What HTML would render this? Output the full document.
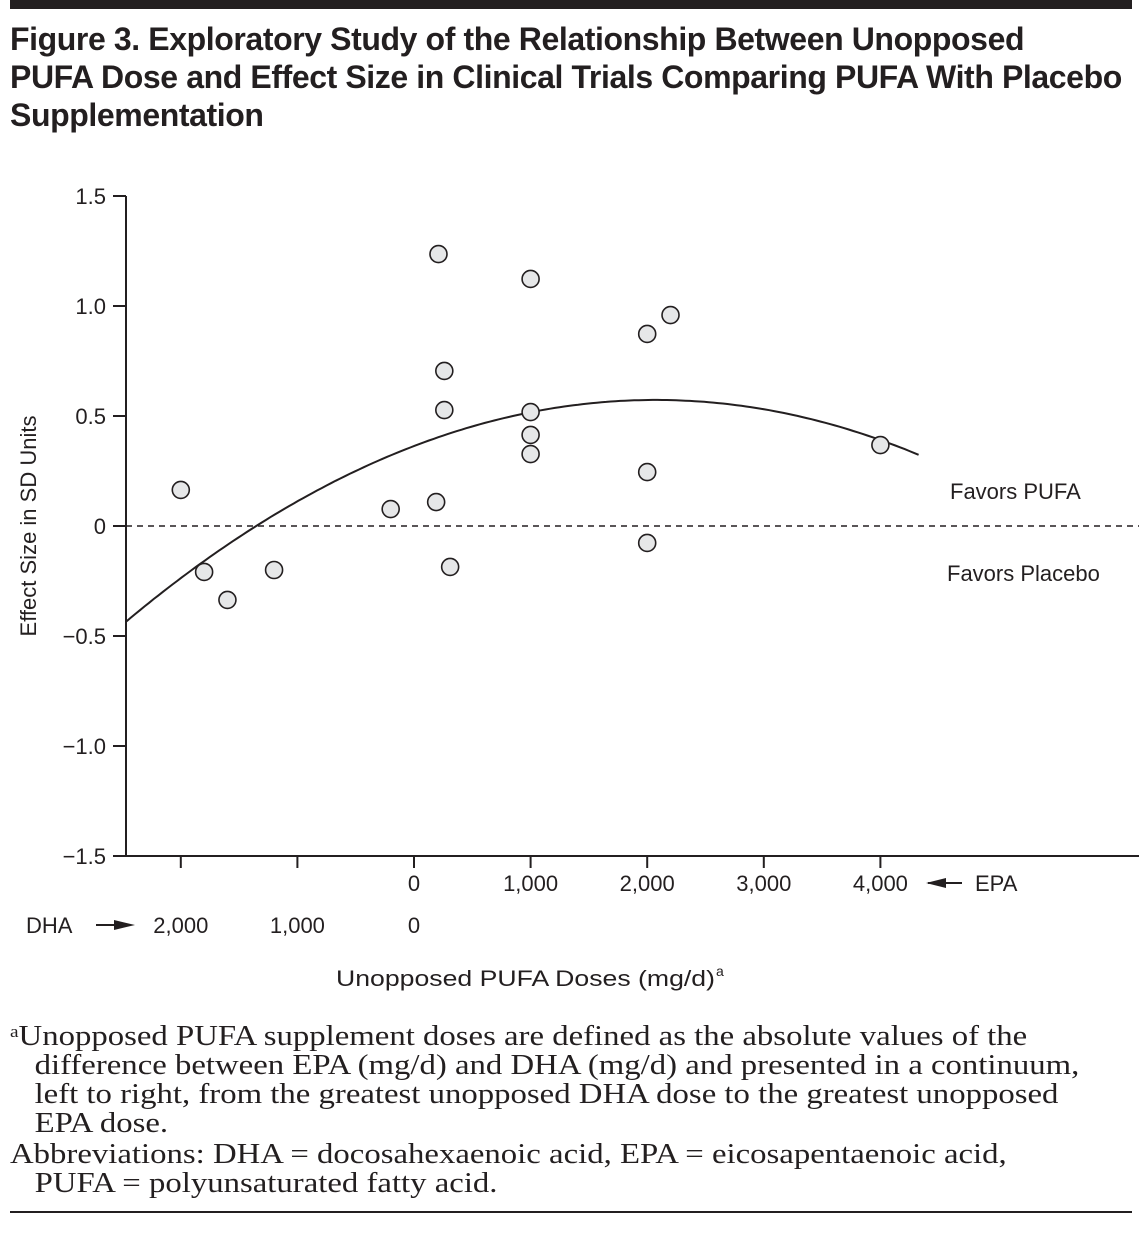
<!DOCTYPE html>
<html><head><meta charset="utf-8"><style>
body{margin:0;background:#fff;width:1139px;height:1240px;position:relative;overflow:hidden;font-family:"Liberation Sans",sans-serif;color:#231f20}
.t{position:absolute;left:10px;top:20px;font-weight:bold;font-size:32px;line-height:38px;letter-spacing:-0.4px}
.fn{position:absolute;left:10px;font-family:"Liberation Serif",serif;font-size:29px;line-height:29px;white-space:nowrap;transform:scaleX(1.13);transform-origin:0 0}
</style></head><body>
<div style="position:absolute;left:10px;top:0;width:1122px;height:9px;background:#231f20"></div>
<div class="t">Figure 3. Exploratory Study of the Relationship Between Unopposed<br>PUFA Dose and Effect Size in Clinical Trials Comparing PUFA With Placebo<br>Supplementation</div>
<svg id="c" width="1139" height="1000" style="position:absolute;left:0;top:0" font-family="Liberation Sans, sans-serif" font-size="22" fill="#231f20"></svg>
<div class="fn" style="top:1022px"><span style="font-size:17px;vertical-align:8px;line-height:0">a</span>Unopposed PUFA supplement doses are defined as the absolute values of the<br>&nbsp;&nbsp;&nbsp;difference between EPA (mg/d) and DHA (mg/d) and presented in a continuum,<br>&nbsp;&nbsp;&nbsp;left to right, from the greatest unopposed DHA dose to the greatest unopposed<br>&nbsp;&nbsp;&nbsp;EPA dose.</div>
<div class="fn" style="top:1140px">Abbreviations: DHA = docosahexaenoic acid, EPA = eicosapentaenoic acid,<br>&nbsp;&nbsp;&nbsp;PUFA = polyunsaturated fatty acid.</div>
<div style="position:absolute;left:10px;top:1211px;width:1122px;height:2px;background:#231f20"></div>
<script>
const doses=[-2000,-1800,-1600,-1200,-200,190,210,260,260,310,1000,1000,1000,1000,2000,2200,2000,2000,4000];
const effects=[0.164,-0.209,-0.336,-0.2,0.077,0.109,1.236,0.705,0.527,-0.186,1.123,0.518,0.414,0.327,0.873,0.959,0.245,-0.077,0.368];
const yTicks=[1.5,1.0,0.5,0,-0.5,-1.0,-1.5];
const yTickLabels=["1.5","1.0","0.5","0","\u22120.5","\u22121.0","\u22121.5"];
const epaTicks=[0,1000,2000,3000,4000];
const epaLabels=["0","1,000","2,000","3,000","4,000"];
const dhaTicks=[-2000,-1000,0];
const dhaLabels=["2,000","1,000","0"];
const fitPeakX=2070, fitPeakY=0.573, fitA=-4.89e-8;
const X=v=>414+v*0.1166, Y=v=>526-v*220;
const s=document.getElementById('c'),NS='http://www.w3.org/2000/svg';
function mk(t,a,txt){const e=document.createElementNS(NS,t);for(const k in a)e.setAttribute(k,a[k]);if(txt!=null)e.textContent=txt;s.appendChild(e);return e;}
let e;
e=mk('line',{x1:126,y1:196,x2:126,y2:856,stroke:'#231f20','stroke-width':2});

e=mk('line',{x1:113,y1:856,x2:1139,y2:856,stroke:'#231f20','stroke-width':2});

yTicks.forEach((v,i)=>{
 e=mk('line',{x1:113,y1:Y(v),x2:126,y2:Y(v),stroke:'#231f20','stroke-width':2});
 
 e=mk('text',{x:106,y:Y(v)+8,'text-anchor':'end'},yTickLabels[i]);
 
});
epaTicks.forEach((v,i)=>{
 e=mk('line',{x1:X(v),y1:856,x2:X(v),y2:868,stroke:'#231f20','stroke-width':2});
 
 e=mk('text',{x:X(v),y:891,'text-anchor':'middle'},epaLabels[i]);
 
});
dhaTicks.forEach((v,i)=>{
 e=mk('line',{x1:X(v),y1:856,x2:X(v),y2:868,stroke:'#231f20','stroke-width':2});
 
 e=mk('text',{x:X(v),y:933,'text-anchor':'middle'},dhaLabels[i]);
 
});
e=mk('line',{x1:928,y1:883,x2:962,y2:883,stroke:'#231f20','stroke-width':2});

e=mk('polygon',{points:'926,883 946,878 946,888'});

e=mk('text',{x:975,y:891},'EPA');

e=mk('text',{x:26,y:933},'DHA');

e=mk('line',{x1:96,y1:925,x2:128,y2:925,stroke:'#231f20','stroke-width':2});

e=mk('polygon',{points:'135,925 114,920 114,930'});

e=mk('text',{x:336,y:986,textLength:379,lengthAdjust:'spacingAndGlyphs'},'Unopposed PUFA Doses (mg/d)');

e=mk('text',{x:716,y:976,'font-size':14},'a');

e=mk('text',{x:0,y:0,transform:'translate(36,526) rotate(-90)','text-anchor':'middle'},'Effect Size in SD Units');

e=mk('line',{x1:126,y1:Y(0),x2:1139,y2:Y(0),stroke:'#231f20','stroke-width':1.5,'stroke-dasharray':'6,5'});

e=mk('text',{x:950,y:499},'Favors PUFA');

e=mk('text',{x:947,y:581},'Favors Placebo');

let d='';
for(let v=-2472;v<=4343;v+=40){const y=fitA*(v-fitPeakX)**2+fitPeakY;d+=(d?'L':'M')+X(v).toFixed(1)+','+Y(y).toFixed(1);}
e=mk('path',{d:d,fill:'none',stroke:'#231f20','stroke-width':2});

doses.forEach((v,i)=>{
 e=mk('circle',{cx:X(v),cy:Y(effects[i]),r:8.5,fill:'#e6e7e8',stroke:'#231f20','stroke-width':1.6});
 
});
</script>
</body></html>
